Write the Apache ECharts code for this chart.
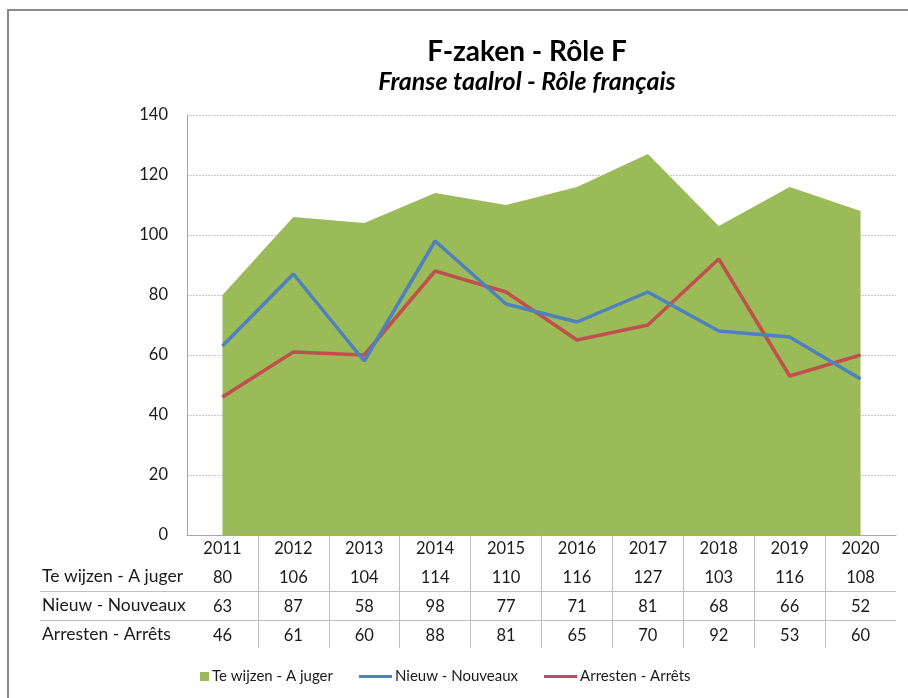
<!DOCTYPE html>
<html>
<head>
<meta charset="utf-8">
<script src="https://cdn.jsdelivr.net/npm/echarts@6/dist/echarts.min.js"></script>
<style>
html,body{margin:0;padding:0;background:#fff;}
#chart{width:908px;height:698px;}
</style>
</head>
<body>
<div id="chart"></div>
<script>
const years = ['2011','2012','2013','2014','2015','2016','2017','2018','2019','2020'];
const teWijzen = [80,106,104,114,110,116,127,103,116,108];
const nieuw = [63,87,58,98,77,71,81,68,66,52];
const arresten = [46,61,60,88,81,65,70,92,53,60];
const seriesNames = ['Te wijzen - A juger','Nieuw - Nouveaux','Arresten - Arrêts'];
const yTicks = {min:0, max:140, interval:20};

const FONT = 'Lato';
const GREEN = '#9BBB59', BLUE = '#4F81BD', RED = '#C0504D';
const TXT = '#1a1a1a';
const TABLE_LINE = '#BFBFBF';

const chart = echarts.init(document.getElementById('chart'), null, {renderer:'canvas'});

const rowAxis = (data, offset) => ({
  type:'category', gridIndex:0, position:'bottom', offset: offset,
  data: data.map(String),
  axisLine:{show:false}, axisTick:{show:false},
  axisLabel:{show:true, interval:0, margin:5, color:TXT, fontFamily:FONT, fontSize:16.5}
});

const LINE_ICON = 'path://M0,0M0,3h33v3h-33zM33,9';

const option = {
  backgroundColor:'#fff',
  animation:false,
  textStyle:{fontFamily:FONT},
  title:{
    left:522, top:33, textAlign:'center',
    text:'F-zaken - Rôle F',
    subtext:'Franse taalrol - Rôle français',
    itemGap:3,
    textStyle:{fontFamily:FONT, fontWeight:'bold', fontSize:28, color:'#000'},
    subtextStyle:{fontFamily:FONT, fontWeight:'bold', fontStyle:'italic', fontSize:25, color:'#000'}
  },
  legend:{
    left:171, top:664, itemGap:26, itemWidth:33, itemHeight:9,
    textStyle:{fontFamily:FONT, fontSize:15, color:TXT, padding:[0,0,0,-2]},
    data:[
      {name:seriesNames[0], icon:'path://M0,0M24,0h9v9h-9z', itemStyle:{color:GREEN}},
      {name:seriesNames[1], icon:LINE_ICON, itemStyle:{color:BLUE}},
      {name:seriesNames[2], icon:LINE_ICON, itemStyle:{color:RED}}
    ]
  },
  graphic:[{
    type:'rect', shape:{x:8, y:10, width:1000, height:1000},
    style:{fill:'none', stroke:'#8a8a8a', lineWidth:2}, silent:true, z:100
  }],
  grid:[
    {left:187, right:12, top:115, bottom:163},
    {left:40, right:12, top:562, height:87},
    {left:187, right:12, top:535, height:113}
  ],
  xAxis:[
    {
      type:'category', gridIndex:0, position:'bottom', data:years, boundaryGap:true,
      axisLine:{show:true, lineStyle:{color:'#A6A6A6', width:1}},
      axisTick:{show:false},
      axisLabel:{interval:0, margin:5, color:TXT, fontFamily:FONT, fontSize:16.5}
    },
    rowAxis(teWijzen, 29),
    rowAxis(nieuw, 58),
    rowAxis(arresten, 87),
    {type:'value', gridIndex:1, show:false},
    {
      type:'category', gridIndex:2, data:years, boundaryGap:true,
      axisLine:{show:false}, axisTick:{show:false}, axisLabel:{show:false},
      splitLine:{show:true, showMinLine:false, showMaxLine:false, interval:0, lineStyle:{color:TABLE_LINE, width:1}}
    }
  ],
  yAxis:[
    {
      type:'value', gridIndex:0, min:yTicks.min, max:yTicks.max, interval:yTicks.interval,
      axisLine:{show:true, lineStyle:{color:'#A6A6A6', width:1}},
      axisTick:{show:false},
      axisLabel:{margin:19, color:TXT, fontFamily:FONT, fontSize:16.5},
      splitLine:{show:true, lineStyle:{color:'#C8C8C8', width:1, type:[2,1]}}
    },
    {
      type:'category', gridIndex:1, inverse:true, data:seriesNames, boundaryGap:true,
      axisLine:{show:false}, axisTick:{show:false},
      axisLabel:{inside:true, margin:2, color:TXT, fontFamily:FONT, fontSize:17.5, align:'left'},
      splitLine:{show:true, showMinLine:false, showMaxLine:false, interval:0, lineStyle:{color:TABLE_LINE, width:1}}
    },
    {type:'value', gridIndex:2, show:false}
  ],
  series:[
    {
      name:seriesNames[0], type:'line', xAxisIndex:0, yAxisIndex:0, data:teWijzen,
      symbol:'none', showSymbol:false, color:GREEN,
      lineStyle:{width:0, color:GREEN}, areaStyle:{color:GREEN, opacity:1}, z:1
    },
    {
      name:seriesNames[1], type:'line', xAxisIndex:0, yAxisIndex:0, data:nieuw,
      symbol:'none', showSymbol:false, color:BLUE,
      lineStyle:{width:3.5, color:BLUE}, z:3
    },
    {
      name:seriesNames[2], type:'line', xAxisIndex:0, yAxisIndex:0, data:arresten,
      symbol:'none', showSymbol:false, color:RED,
      lineStyle:{width:3.5, color:RED}, z:2
    }
  ]
};
chart.setOption(option);
</script>
</body>
</html>
